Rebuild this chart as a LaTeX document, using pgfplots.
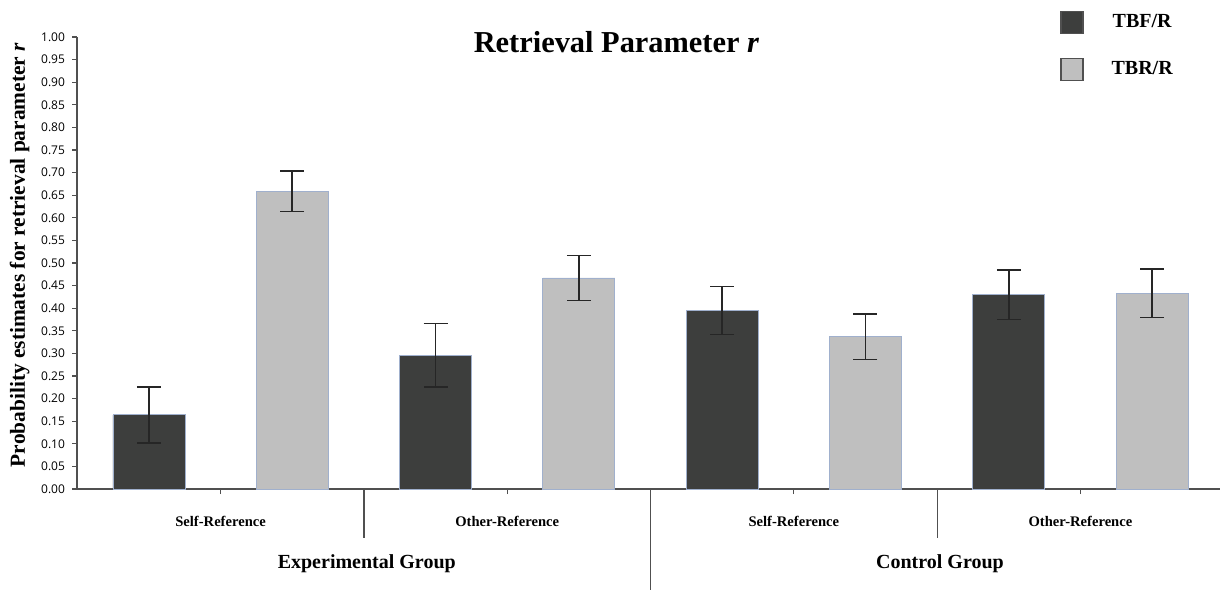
\documentclass[border=0pt]{standalone}
\usepackage{fontspec}
\setmainfont{Liberation Serif}
\newfontfamily\ticksf{Open Sans}
\usepackage{pgfplots}
\pgfplotsset{compat=1.18}
\definecolor{darkbar}{RGB}{61,62,61}
\definecolor{lightbar}{RGB}{191,191,191}
\definecolor{baredge}{RGB}{160,176,205}
\definecolor{axisgray}{RGB}{80,80,80}
\begin{document}
\begin{tikzpicture}
\useasboundingbox (0,0) rectangle (612.5pt,295pt);
\begin{axis}[
  scale only axis, width=571.5pt, height=226pt,
  at={(38.5pt,50.5pt)}, anchor=south west,
  xmin=-0.502, xmax=7.474, ymin=0, ymax=1,
  clip=false,
  axis x line=bottom, axis y line=left,
  axis line style={-, axisgray, line width=0.6pt},
  tick align=outside, major tick length=2.5pt,
  tick style={axisgray, line width=0.6pt},
  ytick={0,0.05,0.10,0.15,0.20,0.25,0.30,0.35,0.40,0.45,0.50,0.55,0.60,0.65,0.70,0.75,0.80,0.85,0.90,0.95,1.00},
  yticklabel style={font=\ticksf\fontsize{6}{7}\selectfont, /pgf/number format/.cd, fixed, fixed zerofill, precision=2, assume math mode=true},
  xtick={0.5,2.5,4.5,6.5},
  xticklabels={Self-Reference,Other-Reference,Self-Reference,Other-Reference},
  xticklabel style={font=\bfseries\fontsize{7.3}{9}\selectfont, yshift=-7.5pt},
  ylabel={\textbf{Probability estimates for retrieval parameter \textit{r}}},
  ylabel style={font=\fontsize{10.7}{12}\selectfont, xshift=4pt, yshift=-1pt},
  title={\textbf{Retrieval Parameter \textit{r}}},
  title style={font=\fontsize{15.2}{17}\selectfont, at={(0.472,0.978)}, anchor=center, yshift=-3.75pt},
  legend style={at={(0.86,1.06)}, anchor=north west, draw=none, fill=none,
    font=\bfseries\fontsize{10}{12}\selectfont, row sep=11.5pt, inner sep=0pt,
    /tikz/every odd column/.append style={column sep=12pt}},
]
\addplot[ybar, bar width=36pt, bar shift=0pt, fill=darkbar, draw=baredge, line width=0.4pt,
  legend image code/.code={\draw[fill=darkbar, draw=axisgray, line width=0.6pt] (0pt,-5.5pt) rectangle (11pt,5.5pt);},
  error bars/.cd, y dir=both, y explicit,
  error bar style={line width=0.75pt, color=black!85},
  error mark options={rotate=90, mark size=6pt, line width=0.75pt, color=black!85}]
  coordinates {
  (0,0.164) +- (0,0.062)
  (2,0.296) +- (0,0.070)
  (4,0.395) +- (0,0.053)
  (6,0.430) +- (0,0.055)
  };
\addlegendentry{TBF/R}
\addplot[ybar, bar width=36pt, bar shift=0pt, fill=lightbar, draw=baredge, line width=0.4pt,
  legend image code/.code={\draw[fill=lightbar, draw=axisgray, line width=0.6pt] (0pt,-5.5pt) rectangle (11pt,5.5pt);},
  error bars/.cd, y dir=both, y explicit,
  error bar style={line width=0.75pt, color=black!85},
  error mark options={rotate=90, mark size=6pt, line width=0.75pt, color=black!85}]
  coordinates {
  (1,0.659) +- (0,0.045)
  (3,0.467) +- (0,0.050)
  (5,0.337) +- (0,0.050)
  (7,0.433) +- (0,0.054)
  };
\addlegendentry{TBR/R}
\draw[axisgray, line width=0.6pt] (axis cs:1.5,0) -- ++(0pt,-24.5pt);
\draw[axisgray, line width=0.6pt] (axis cs:3.5,0) -- ++(0pt,-50.5pt);
\draw[axisgray, line width=0.6pt] (axis cs:5.5,0) -- ++(0pt,-24.5pt);
\node[font=\bfseries\fontsize{10}{12}\selectfont] at (axis cs:1.52,0) [yshift=-37.5pt] {Experimental Group};
\node[font=\bfseries\fontsize{10}{12}\selectfont] at (axis cs:5.52,0) [yshift=-37.5pt] {Control Group};
\end{axis}
\end{tikzpicture}
\end{document}
